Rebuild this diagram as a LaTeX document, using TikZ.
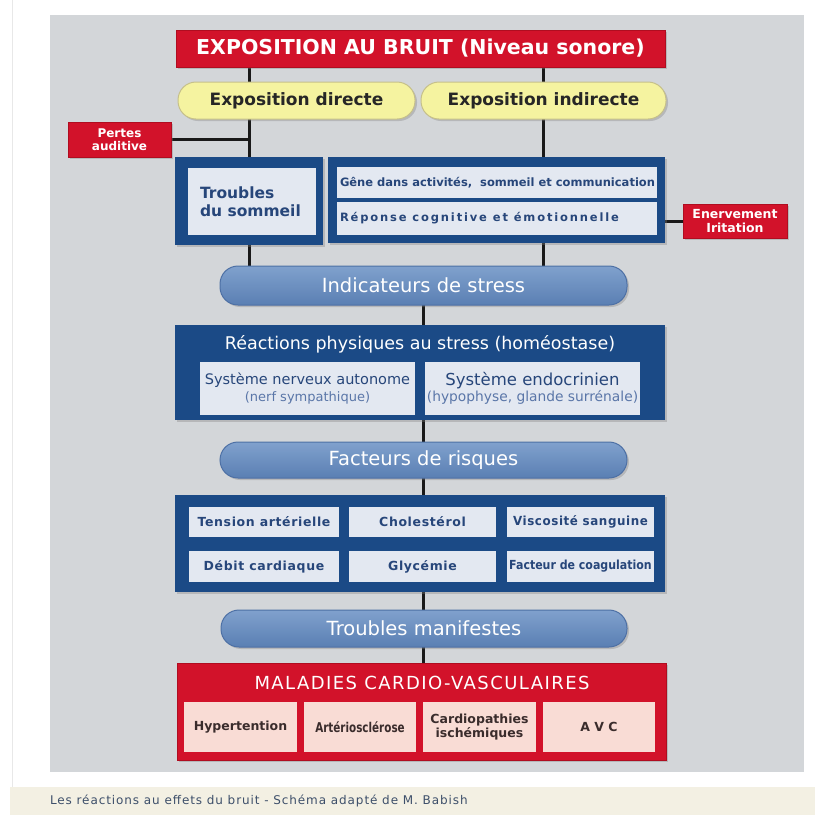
\documentclass[tikz,border=0pt]{standalone}
\usepackage{fontspec}
\usepackage{graphicx}
\setmainfont{DejaVu Sans}
\newfontfamily\spacedA{DejaVu Sans}[LetterSpace=16]
\newfontfamily\spacedB{DejaVu Sans}[LetterSpace=5]
\newfontfamily\spacedC{DejaVu Sans}[LetterSpace=8]
\newfontfamily\spacedD{DejaVu Sans}[LetterSpace=7.6]
\usetikzlibrary{shadows}

\definecolor{panelgray}{HTML}{D3D6D9}
\definecolor{footbeige}{HTML}{F3F0E3}
\definecolor{alarmred}{HTML}{D2122A}
\definecolor{alarmredd}{HTML}{B00D20}
\definecolor{paleyellow}{HTML}{F5F3A0}
\definecolor{yellowrim}{HTML}{C6C08A}
\definecolor{navy}{HTML}{1B4A86}
\definecolor{cellblue}{HTML}{E3E8F1}
\definecolor{pilltop}{HTML}{80A1CD}
\definecolor{pillbot}{HTML}{5A7FB3}
\definecolor{pillrim}{HTML}{4D70A5}
\definecolor{inkblue}{HTML}{27467A}
\definecolor{softblue}{HTML}{5A76A8}
\definecolor{pinkcell}{HTML}{F9DCD5}
\definecolor{inkdark}{HTML}{3A2C2C}
\definecolor{footink}{HTML}{3D4F6A}

\newcommand\fs[1]{\fontsize{#1}{#1}\selectfont}
% box given by its corners (x1,y1) and (x2,y2), y growing downwards
\newcommand\mkbox[7]{\node[#1, minimum width={(#5-#3)*1pt}, minimum height={(#6-#4)*1pt}] (#2) at ({(#3+#5)/2},{(#4+#6)/2}) {#7};}

\pgfdeclarelayer{bg}
\pgfdeclarelayer{lines}
\pgfsetlayers{bg,lines,main}

\tikzset{
  base/.style={inner sep=0pt, outer sep=0pt, align=center},
  shade/.style={drop shadow={shadow xshift=2pt, shadow yshift=-2pt, opacity=0.35}},
  redbox/.style={base, shade, fill=alarmred, draw=alarmredd, line width=0.8pt, text=white, font=\bfseries\fs{12}},
  yellowpill/.style={base, shade, fill=paleyellow, draw=yellowrim, line width=1pt, rounded corners=18pt, text=black!85, font=\bfseries\fs{17}},
  bluepill/.style={base, shade, top color=pilltop, bottom color=pillbot, draw=pillrim, line width=1pt, rounded corners=18pt, text=white, font=\fs{19.5}},
  frame/.style={base, shade, fill=navy},
  redframe/.style={base, shade, fill=alarmred, draw=alarmredd, line width=0.8pt},
  cell/.style={base, fill=cellblue, text=inkblue},
  riskcell/.style={base, fill=cellblue, text=inkblue, font=\spacedB\bfseries\fs{12.5}},
  illcell/.style={base, fill=pinkcell, text=inkdark, font=\bfseries\fs{12.5}},
  conn/.style={line width=3pt, black!90},
  txt/.style={inner sep=0pt, outer sep=0pt, align=left}
}

\begin{document}
\begin{tikzpicture}[x=1pt, y=-1pt]
\useasboundingbox (0,0) rectangle (815,815);

\begin{pgfonlayer}{bg}
  \fill[white] (0,0) rectangle (815,815);
  \draw[black!9, line width=0.8pt] (12,0) -- (12,787);
  \fill[footbeige] (10,787) rectangle (815,815);
  \fill[panelgray] (50,15) rectangle (804,772);
\end{pgfonlayer}

% exposure
\mkbox{redbox, font=\bfseries\fs{20.5}}{title}{176}{30}{665}{67}{EXPOSITION AU BRUIT (Niveau sonore)}
\mkbox{yellowpill}{expdir}{178}{82}{415}{119}{Exposition directe}
\mkbox{yellowpill}{expind}{421}{82}{666}{119}{Exposition indirecte}
\mkbox{redbox}{pertes}{68}{122}{171}{157}{Pertes\\[1pt]auditive}
\mkbox{redbox, font=\bfseries\fs{12.5}}{enerv}{683}{204}{787}{238}{Enervement\\[1pt]Iritation}

% annoyance and sleep
\mkbox{frame}{troubfr}{175}{157}{323}{245}{}
\mkbox{cell}{troub}{188}{168}{316}{235}{}
\node[txt, text=inkblue, font=\bfseries\fs{15.5}, anchor=west] (troubtxt) at ([xshift=12pt]troub.west) {Troubles\\[3pt]du sommeil};
\mkbox{frame}{genefr}{328}{157}{665}{243}{}
\mkbox{cell}{gene}{337}{167}{657}{198}{}
\mkbox{cell}{repon}{337}{202}{657}{235}{}
\node[txt, text=inkblue, font=\bfseries\fs{11.5}, anchor=west] (genetxt) at ([xshift=3pt]gene.west) {Gêne dans activités, \ sommeil et communication};
\node[txt, text=inkblue, font=\spacedA\bfseries\fs{11.5}, anchor=west] (repontxt) at ([xshift=3pt]repon.west) {Réponse cognitive et émotionnelle};

% stress
\mkbox{bluepill}{indic}{220}{266}{627}{305}{Indicateurs de stress}
\mkbox{frame}{reac}{175}{325}{665}{420}{}
\node[txt, text=white, font=\fs{17.5}] (reactxt) at (420,344) {Réactions physiques au stress (homéostase)};
\mkbox{cell}{sna}{200}{362}{415}{415}{}
\mkbox{cell}{endo}{425}{362}{640}{415}{}
\node[base, text=inkblue, font=\fs{14.5}] (snatxt) at ([yshift=8pt]sna.center) {Système nerveux autonome};
\node[base, text=softblue, font=\fs{13}] (snasub) at ([yshift=-9pt]sna.center) {(nerf sympathique)};
\node[base, text=inkblue, font=\fs{16.5}] (endotxt) at ([yshift=8pt]endo.center) {Système endocrinien};
\node[base, text=softblue, font=\fs{13.8}] (endosub) at ([yshift=-9pt]endo.center) {(hypophyse, glande surrénale)};

% risk factors
\mkbox{bluepill}{fact}{220}{442}{627}{478}{Facteurs de risques}
\mkbox{frame}{riskfr}{175}{495}{665}{592}{}
\mkbox{riskcell}{tens}{189}{507}{339}{537}{Tension artérielle}
\mkbox{riskcell}{chol}{349}{507}{496}{537}{Cholestérol}
\mkbox{riskcell}{visc}{507}{507}{654}{537}{\scalebox{0.95}[1]{Viscosité sanguine}}
\mkbox{riskcell}{debit}{189}{551}{339}{582}{Débit cardiaque}
\mkbox{riskcell}{glyc}{349}{551}{496}{582}{Glycémie}
\mkbox{riskcell, font=\bfseries\fs{12.5}}{coag}{507}{551}{654}{582}{\scalebox{0.88}[1]{Facteur de coagulation}}

% diseases
\mkbox{bluepill}{manif}{221}{610}{627}{647}{Troubles manifestes}
\mkbox{redframe}{mal}{177}{663}{666}{760}{}
\node[base, text=white, font=\spacedC\fs{18}] (maltxt) at (422,683) {MALADIES CARDIO-VASCULAIRES};
\mkbox{illcell}{hyper}{184}{702}{297}{752}{Hypertention}
\mkbox{illcell, font=\bfseries\fs{13.5}}{arter}{304}{702}{416}{752}{\scalebox{0.77}[1]{Artériosclérose}}
\mkbox{illcell}{cardio}{423}{702}{536}{752}{Cardiopathies\\[1pt]ischémiques}
\mkbox{illcell}{avc}{543}{702}{655}{752}{A V C}

% caption
\node[txt, text=footink, font=\spacedD\fs{12}, anchor=west] (caption) at (50,801) {Les réactions au effets du bruit - Schéma adapté de M. Babish};

% connectors
\begin{pgfonlayer}{lines}
  \draw[conn] (title.south -| troubfr.north) -- (expdir.north -| troubfr.north);
  \draw[conn] (title.south -| expind.north) -- (expind.north);
  \draw[conn] (expdir.south -| troubfr.north) -- (troubfr.north);
  \draw[conn] (pertes.east) -- (pertes.east -| troubfr.north);
  \draw[conn] (expind.south) -- (genefr.north -| expind.south);
  \draw[conn] (enerv.west) -- (enerv.west -| genefr.east);
  \draw[conn] (troubfr.south) -- (indic.north -| troubfr.south);
  \draw[conn] (genefr.south -| expind.south) -- (indic.north -| expind.south);
  \draw[conn] (indic.south) -- (reac.north -| indic.south);
  \draw[conn] (reac.south -| indic.south) -- (fact.north -| indic.south);
  \draw[conn] (fact.south -| indic.south) -- (riskfr.north -| indic.south);
  \draw[conn] (riskfr.south -| indic.south) -- (manif.north -| indic.south);
  \draw[conn] (manif.south -| indic.south) -- (mal.north -| indic.south);
\end{pgfonlayer}
\end{tikzpicture}
\end{document}
